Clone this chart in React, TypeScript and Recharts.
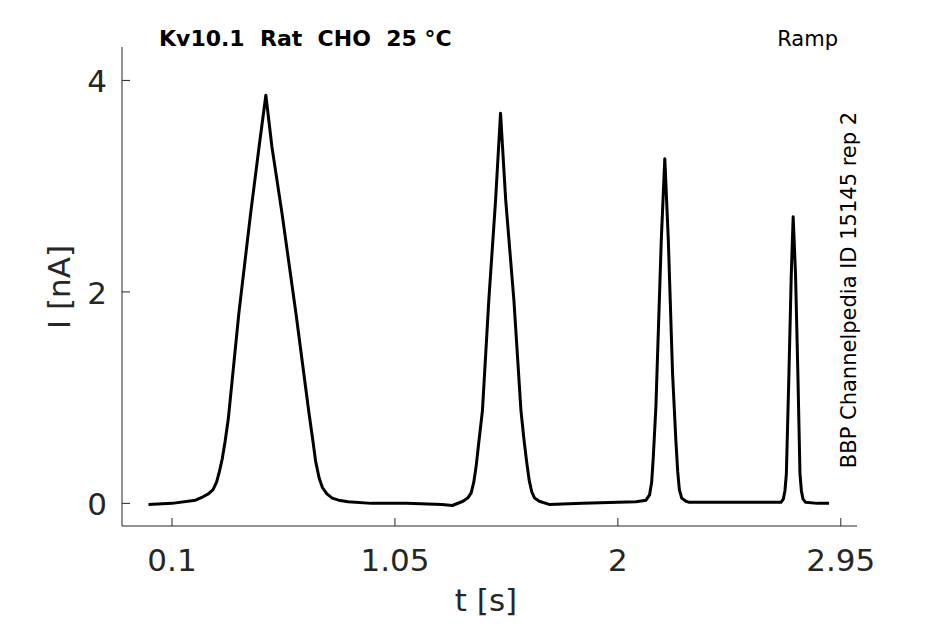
import { LineChart, Line, XAxis, YAxis } from 'recharts'

// time in s, current in nA
const timeS = [
  0.0, 0.1, 0.2, 0.23, 0.255, 0.275, 0.29, 0.302, 0.314, 0.326, 0.34, 0.385,
  0.435, 0.471, 0.5, 0.526, 0.569, 0.628, 0.684, 0.7, 0.712, 0.727, 0.741, 0.76,
  0.783, 0.81, 0.85, 0.95, 1.1, 1.25, 1.295, 1.34, 1.36, 1.375, 1.386, 1.396,
  1.406, 1.423, 1.45, 1.479, 1.5, 1.522, 1.557, 1.587, 1.6, 1.612, 1.622, 1.633,
  1.645, 1.665, 1.707, 1.85, 2.0, 2.077, 2.12, 2.135, 2.144, 2.151, 2.162, 2.185,
  2.2, 2.215, 2.233, 2.247, 2.255, 2.262, 2.272, 2.29, 2.304, 2.45, 2.6, 2.695,
  2.705, 2.712, 2.718, 2.729, 2.739, 2.747, 2.757, 2.767, 2.776, 2.782, 2.789, 2.8,
  2.85, 2.9,
]
const currentNA = [
  -0.01, 0.0, 0.03, 0.06, 0.09, 0.13, 0.2, 0.3, 0.42, 0.58, 0.8, 1.8,
  2.74, 3.37, 3.86, 3.37, 2.74, 1.8, 0.85, 0.6, 0.4, 0.24, 0.15, 0.09,
  0.05, 0.03, 0.015, 0.0, 0.0, -0.01, -0.02, 0.02, 0.05, 0.1, 0.2, 0.35,
  0.55, 0.88, 1.92, 2.87, 3.69, 2.87, 1.92, 0.88, 0.6, 0.38, 0.22, 0.11,
  0.05, 0.02, -0.01, 0.0, 0.01, 0.015, 0.03, 0.08, 0.2, 0.44, 0.91, 2.49,
  3.26, 2.49, 1.23, 0.6, 0.3, 0.13, 0.05, 0.02, 0.01, 0.01, 0.01, 0.01,
  0.04, 0.12, 0.28, 1.23, 2.17, 2.71, 2.17, 1.23, 0.28, 0.12, 0.04, 0.01,
  0.0, 0.0,
]
const xTicks = [0.1, 1.05, 2, 2.95]
const yTicks = [0, 2, 4]

const rows = timeS.map((t, i) => ({ t, i: currentNA[i] }))

const FONT = '"DejaVu Sans", sans-serif'
const GREY = '#262626'

const XTick = ({ x, y, payload }: any) => (
  <g>
    <line x1={x} x2={x} y1={y} y2={y - 8} stroke={GREY} strokeWidth={1} />
    <text x={x} y={y + 45} textAnchor="middle" fontSize={31} fontFamily={FONT} fill={GREY}>
      {String(payload.value)}
    </text>
  </g>
)

const YTick = ({ x, y, payload }: any) => (
  <g>
    <line x1={x} x2={x + 8} y1={y} y2={y} stroke={GREY} strokeWidth={1} />
    <text x={x - 15} y={y + 12} textAnchor="end" fontSize={31} fontFamily={FONT} fill={GREY}>
      {String(payload.value)}
    </text>
  </g>
)

export default function App() {
  return (
    <div style={{ position: 'absolute', left: 0, top: 0, width: 945, height: 624, background: '#fff' }}>
      <LineChart width={945} height={624} data={rows} margin={{ top: 47, right: 88, bottom: 0, left: 0 }}>
        <XAxis
          dataKey="t"
          type="number"
          domain={[-0.113, 3.019]}
          ticks={xTicks}
          interval={0}
          height={98}
          tickSize={0}
          tickMargin={0}
          tickLine={false}
          axisLine={{ stroke: GREY, strokeWidth: 1 }}
          tick={<XTick />}
          allowDataOverflow
        />
        <YAxis
          type="number"
          domain={[-0.214, 4.316]}
          ticks={yTicks}
          interval={0}
          width={122}
          tickSize={0}
          tickMargin={0}
          tickLine={false}
          axisLine={{ stroke: GREY, strokeWidth: 1 }}
          tick={<YTick />}
          allowDataOverflow
        />
        <Line
          type="linear"
          dataKey="i"
          stroke="#000"
          strokeWidth={3}
          strokeLinejoin="round"
          dot={false}
          isAnimationActive={false}
        />
      </LineChart>
      <svg
        width={945}
        height={624}
        style={{ position: 'absolute', left: 0, top: 0, pointerEvents: 'none' }}
        fontFamily={FONT}
      >
        <text x={159} y={46} fontSize={22} fontWeight="bold" fill="#000" style={{ whiteSpace: 'pre' }}>
          {'Kv10.1  Rat  CHO  25 °C'}
        </text>
        <text x={838} y={46} fontSize={21} textAnchor="end" fill="#000">Ramp</text>
        <text
          x={856}
          y={290}
          fontSize={21}
          textAnchor="middle"
          fill="#000"
          transform="rotate(-90 856 290)"
        >
          BBP Channelpedia ID 15145 rep 2
        </text>
        <text x={486} y={611} fontSize={31} textAnchor="middle" fill={GREY}>t [s]</text>
        <text
          x={70}
          y={287}
          fontSize={31}
          textAnchor="middle"
          fill={GREY}
          transform="rotate(-90 70 287)"
        >
          I [nA]
        </text>
      </svg>
    </div>
  )
}
